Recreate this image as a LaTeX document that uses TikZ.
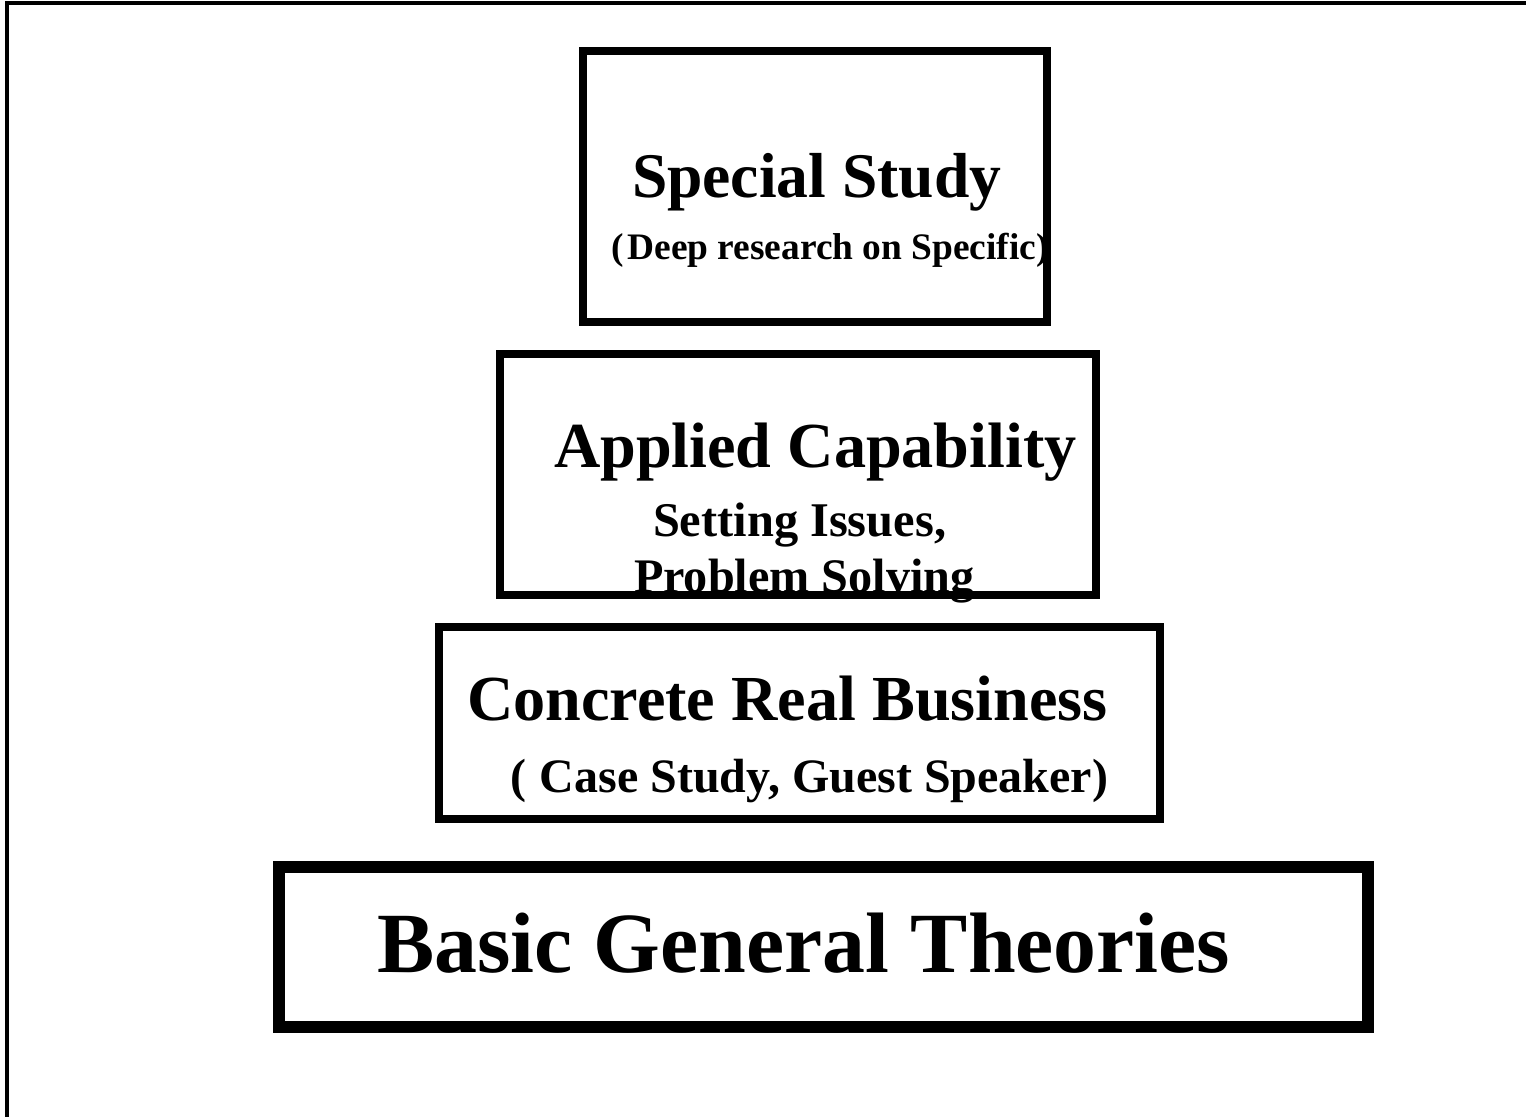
\documentclass[tikz,border=0pt]{standalone}
\usepackage{fontspec}
\setmainfont{Liberation Serif}
\begin{document}
\begin{tikzpicture}[x=0.5pt,y=-0.5pt,
  lbl/.style={anchor=base west,inner sep=0pt,outer sep=0pt,font=\bfseries},
  box/.style={draw=black,rectangle,inner sep=0pt,outer sep=0pt,line width=4pt},
  bigbox/.style={box,line width=6pt}]
\useasboundingbox (0,0) rectangle (1526,1117);
% page frame (top and left edges only)
\coordinate (fbl) at (7,1117);
\coordinate (ftl) at (7,3);
\coordinate (ftr) at (1526,3);
\draw[line width=1.7pt] (fbl) -- (ftl) -- (ftr);
% texts
\node[lbl,font=\bfseries\fontsize{31.8}{36}\selectfont] (t1) at (632,198) {Special Study};
\node[lbl,font=\bfseries\fontsize{18.7}{22}\selectfont] (t2) at (611,260) {(\hspace{2pt}Deep research on Specific)};
\node[lbl,font=\bfseries\fontsize{32.1}{36}\selectfont] (t3) at (554,467) {Applied Capability};
\node[lbl,font=\bfseries\fontsize{24.2}{28}\selectfont] (t4) at (653,536) {Setting Issues,};
\node[lbl,font=\bfseries\fontsize{24.1}{28}\selectfont] (t5) at (634,592) {Problem Solving};
\node[lbl,font=\bfseries\fontsize{32.1}{36}\selectfont] (t6) at (467,720) {Concrete Real Business};
\node[lbl,font=\bfseries\fontsize{24}{28}\selectfont] (t7) at (510,792) {(\hspace{7pt}Case Study, Guest Speaker)};
\node[lbl,font=\bfseries\fontsize{42.9}{48}\selectfont] (t8) at (377,972) {Basic General Theories};
% boxes (drawn over the texts)
\node[box,minimum width=232pt,minimum height=135.5pt] (b1) at (815,186.5) {};
\node[box,minimum width=297.75pt,minimum height=120.25pt] (b2) at (797.75,474.75) {};
\node[box,minimum width=360.25pt,minimum height=96pt] (b3) at (799.25,723) {};
\node[bigbox,minimum width=544.25pt,minimum height=80pt] (b4) at (823.25,947) {};
\end{tikzpicture}
\end{document}
